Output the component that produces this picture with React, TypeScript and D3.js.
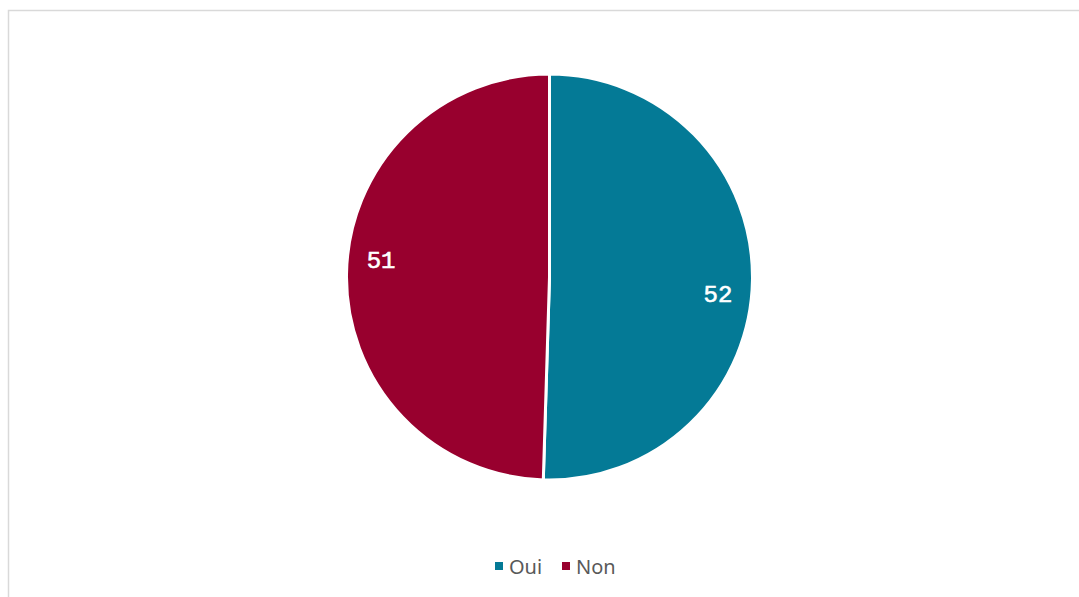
import React from "react";
import * as d3 from "d3";

const categories = ["Oui", "Non"];
const values = [52, 51];
const colors = ["#047A96", "#98002E"];

const W = 1079;
const H = 597;
const cx = 549.5;
const cy = 277;
const R = 203;
const labelOffsets = [16, -13];

export default function App() {
  const pie = d3.pie<number>().sort(null).value((d) => d);
  const arcs = pie(values);
  const arc = d3.arc<d3.PieArcDatum<number>>().innerRadius(0).outerRadius(R);
  const labelArc = d3.arc<d3.PieArcDatum<number>>().innerRadius(R * 0.83).outerRadius(R * 0.83);

  const legendX = [496, 563];
  return (
    <svg width={W} height={H} style={{ position: "absolute", left: 0, top: 0, background: "#fff" }}>
      <rect x={8.5} y={10.5} width={W + 10} height={H + 10} fill="#fff" stroke="#d9d9d9" strokeWidth={1.5} />
      <g transform={`translate(${cx},${cy})`}>
        {arcs.map((a, i) => (
          <path key={i} d={arc(a) || ""} fill={colors[i]} stroke="#fff" strokeWidth={3} strokeLinejoin="round" />
        ))}
        {arcs.map((a, i) => {
          const [x, y] = labelArc.centroid(a);
          return (
            <text
              key={"l" + i}
              x={x}
              y={y + labelOffsets[i]}
              textAnchor="middle"
              dominantBaseline="central"
              fill="#fff"
              stroke="#fff"
              strokeWidth={0.6}
              fontFamily="'Liberation Mono', monospace"
              fontSize={24}
            >
              {values[i]}
            </text>
          );
        })}
      </g>
      <g>
        {categories.map((c, i) => (
          <g key={c}>
            <rect x={legendX[i] - 1} y={562} width={8} height={8} fill={colors[i]} />
            <text
              x={legendX[i] + 13}
              y={566}
              dominantBaseline="central"
              fill="#595959"
              fontFamily="'Noto Sans', sans-serif"
              fontSize={20}
            >
              {c}
            </text>
          </g>
        ))}
      </g>
    </svg>
  );
}
